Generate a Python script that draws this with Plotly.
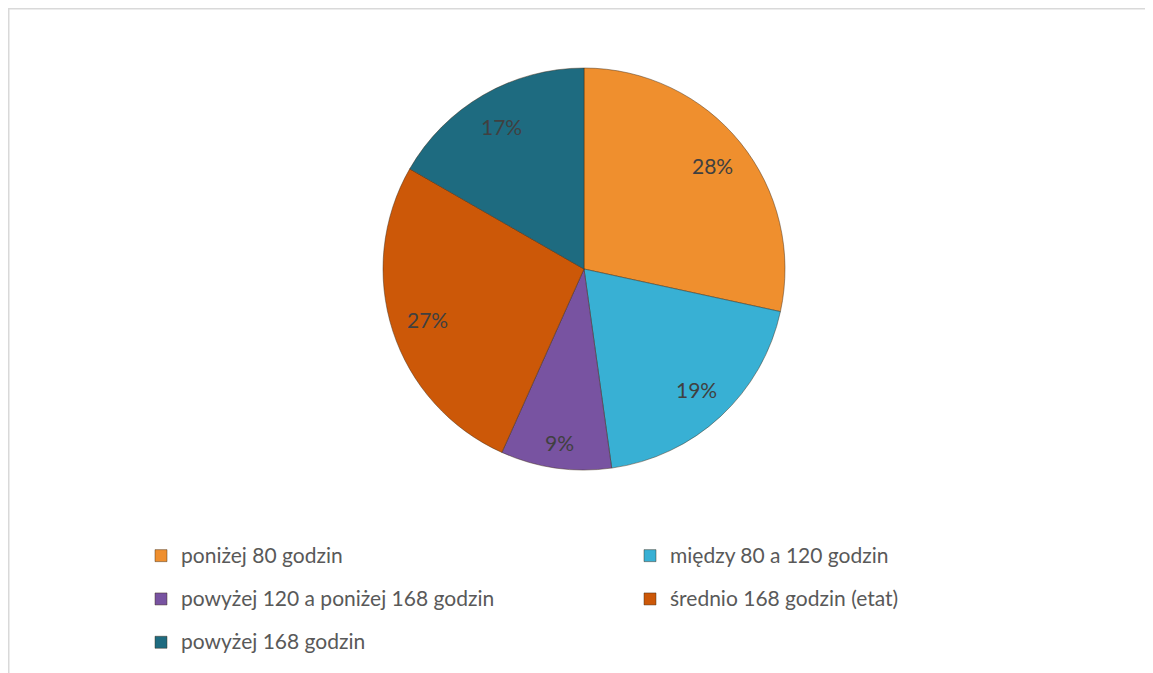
import math
import plotly.graph_objects as go

# ---- data ----
categories = [
    "poniżej 80 godzin",
    "między 80 a 120 godzin",
    "powyżej 120 a poniżej 168 godzin",
    "średnio 168 godzin (etat)",
    "powyżej 168 godzin",
]
shares = [28.4, 19.4, 8.9, 26.6, 16.7]
slice_colors = ["#EF8F2E", "#38B0D4", "#7853A1", "#CC5808", "#1E6B80"]

# figure is placed by the page at an 8px offset
W, H = 1145, 665
cx_px, cy_px, r_px = 576, 261, 201

legend_labels = [
    f"<span style='font-size:21px;baseline-shift:5px'>{c}</span>" for c in categories
]

fig = go.Figure()
fig.add_trace(go.Pie(
    labels=legend_labels,
    values=shares,
    sort=False,
    direction="clockwise",
    rotation=0,
    marker=dict(colors=slice_colors, line=dict(color="rgba(60,40,20,0.45)", width=1)),
    textinfo="none",
    hoverinfo="label+percent",
    domain=dict(x=[(cx_px - r_px) / W, (cx_px + r_px) / W],
                y=[1 - (cy_px + r_px) / H, 1 - (cy_px - r_px) / H]),
))

# percentage labels placed at mid-angle of each slice
total = sum(shares)
cum = 0
for v in shares:
    frac = v / total
    mid = (cum + frac / 2) * 2 * math.pi
    cum += frac
    rr = (0.87 if frac < 0.12 else 0.82) * r_px
    x = (cx_px + rr * math.sin(mid)) / W
    y = 1 - (cy_px - rr * math.cos(mid)) / H
    fig.add_annotation(
        x=x, y=y, xref="paper", yref="paper",
        text=f"{int(frac * 100 + 0.5)}%", showarrow=False,
        font=dict(family="Lato", size=21, color="#404040"),
        xanchor="center", yanchor="middle",
    )

# chart frame (top and left edges visible)
fig.add_shape(type="line", xref="paper", yref="paper",
              x0=0, x1=1, y0=1 - 0.75 / H, y1=1 - 0.75 / H,
              line=dict(color="#D9D9D9", width=1.5))
fig.add_shape(type="line", xref="paper", yref="paper",
              x0=0.75 / W, x1=0.75 / W, y0=1, y1=0,
              line=dict(color="#D9D9D9", width=1.5))

fig.update_layout(
    width=W, height=H,
    margin=dict(l=0, r=0, t=0, b=0, autoexpand=False),
    paper_bgcolor="white",
    plot_bgcolor="white",
    showlegend=True,
    legend=dict(
        orientation="h",
        x=133 / W, xanchor="left",
        y=1 - 521 / H, yanchor="top",
        entrywidth=444, entrywidthmode="pixels",
        font=dict(family="Lato", size=31, color="#595959"),
        bgcolor="rgba(0,0,0,0)",
        traceorder="normal",
    ),
)

fig.write_html("out.html")
